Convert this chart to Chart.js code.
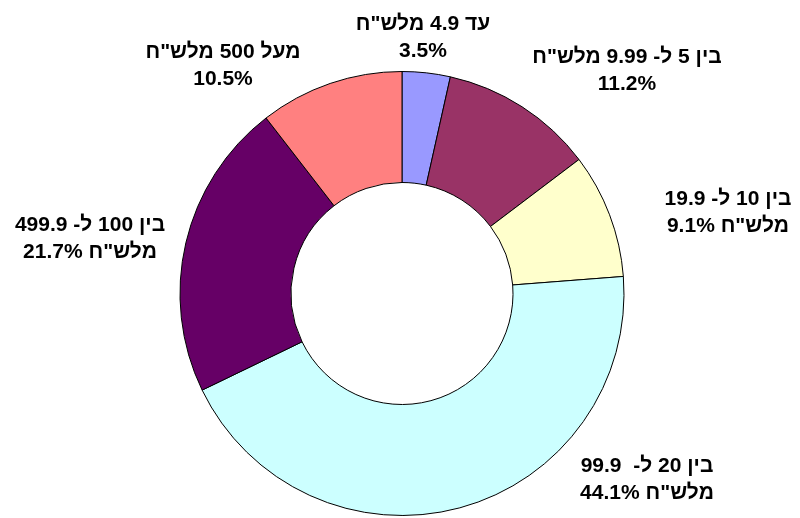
<!DOCTYPE html>
<html lang="he">
<head>
<meta charset="utf-8">
<title>Doughnut</title>
<script src="https://cdn.jsdelivr.net/npm/chart.js@4"></script>
<style>
  html, body { margin: 0; padding: 0; background: #fff; }
  canvas { display: block; }
</style>
</head>
<body>
<canvas id="chart" width="800" height="518"></canvas>
<script>
/* ─── Data ──────────────────────────────────────────────────────────────── */
const categories = [
  'עד 4.9 מלש"ח',
  'בין 5 ל- 9.99 מלש"ח',
  'בין 10 ל- 19.9 מלש"ח',
  'בין 20 ל-  99.9 מלש"ח',
  'בין 100 ל- 499.9 מלש"ח',
  'מעל 500 מלש"ח'
];
const shares = [3.5, 11.2, 9.1, 44.1, 21.7, 10.5];

// how each label wraps onto two lines (as in the original)
const labelLines = [
  ['עד 4.9 מלש"ח', '3.5%'],
  ['בין 5 ל- 9.99 מלש"ח', '11.2%'],
  ['בין 10 ל- 19.9', 'מלש"ח 9.1%'],
  ['בין 20 ל-  99.9', 'מלש"ח 44.1%'],
  ['בין 100 ל- 499.9', 'מלש"ח 21.7%'],
  ['מעל 500 מלש"ח', '10.5%']
];

/* ─── Layout / style ────────────────────────────────────────────────────── */
const colours = ['#9999FF', '#993366', '#FFFFCC', '#CCFFFF', '#660066', '#FF8080'];
// first-line centre of each label, relative to the doughnut centre
const labelOffsets = [
  [21, -269.5], [225, -236.5], [326, -94.5],
  [245, 172.5], [-312, -68.5], [-179, -241.5]
];
const LINE_GAP = 27;
const LABEL_FONT = 'bold 21px "Liberation Sans", Arial, sans-serif';

/* ─── Label plugin ──────────────────────────────────────────────────────── */
const outsideLabels = {
  id: 'outsideLabels',
  afterDatasetsDraw(chart) {
    const { ctx } = chart;
    const arcs = chart.getDatasetMeta(0).data;
    if (!arcs.length) return;
    const cx = arcs[0].x, cy = arcs[0].y;
    ctx.save();
    ctx.font = LABEL_FONT;
    ctx.fillStyle = '#000';
    ctx.direction = 'rtl';
    ctx.textAlign = 'center';
    ctx.textBaseline = 'middle';
    labelLines.forEach((lines, i) => {
      const [dx, dy] = labelOffsets[i];
      lines.forEach((txt, j) => ctx.fillText(txt, cx + dx, cy + dy + j * LINE_GAP));
    });
    ctx.restore();
  }
};

/* ─── Chart ─────────────────────────────────────────────────────────────── */
new Chart(document.getElementById('chart'), {
  type: 'doughnut',
  data: {
    labels: categories,
    datasets: [{
      data: shares,
      backgroundColor: colours,
      borderColor: '#000',
      borderWidth: 1
    }]
  },
  options: {
    responsive: false,
    animation: false,
    cutout: '50%',
    layout: { padding: { left: 4, right: 0, top: 71, bottom: 2 } },
    plugins: {
      legend: { display: false },
      tooltip: { enabled: false }
    }
  },
  plugins: [outsideLabels]
});
</script>
</body>
</html>
